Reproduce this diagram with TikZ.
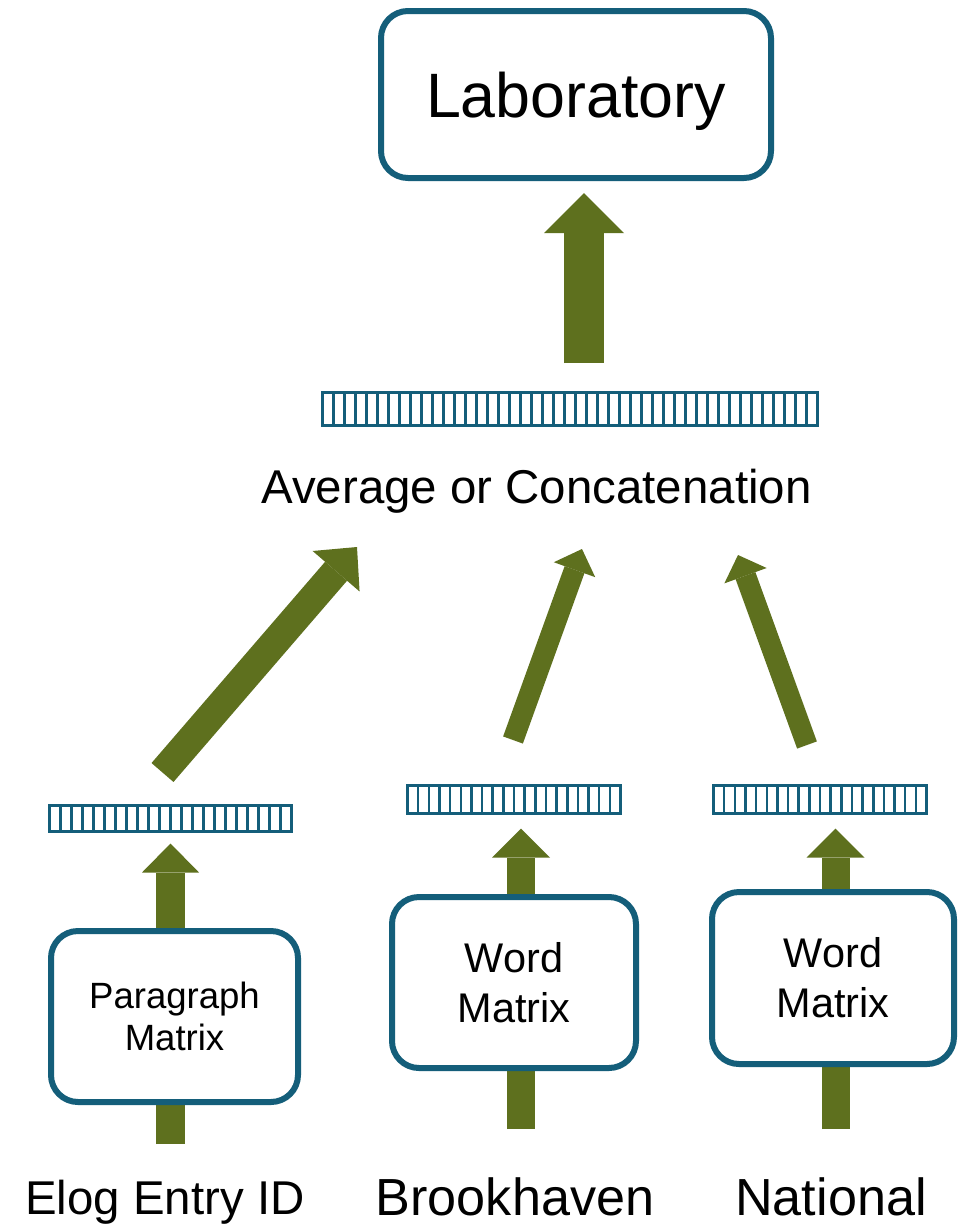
\documentclass[tikz,border=0pt]{standalone}
\usepackage{fontspec}
\setmainfont{Liberation Sans}
\usetikzlibrary{arrows.meta,backgrounds,calc}

\definecolor{boxblue}{RGB}{20,94,122}
\definecolor{arrowgreen}{RGB}{94,112,30}
\newcommand{\pxu}{0.02cm}

\tikzset{
  block/.style={draw=boxblue, line width=6*\pxu, rounded corners=27*\pxu,
    fill=white, align=center, inner sep=0pt},
  vecbar/.style={draw=boxblue, line width=3*\pxu, fill=white, inner sep=0pt,
    path picture={
      \pgfmathtruncatemacro{\lastcell}{#1-1}
      \foreach \k in {1,...,\lastcell}
        \draw[boxblue, line width=2.5*\pxu]
          ($(path picture bounding box.south west)!\k/#1!(path picture bounding box.south east)$) --
          ($(path picture bounding box.north west)!\k/#1!(path picture bounding box.north east)$);
    }},
  fatarrow/.style n args={3}{draw=arrowgreen, line width=#1*\pxu,
    -{Triangle[width=#2*\pxu, length=#3*\pxu, line width=0pt]}},
  wordfont/.style={font=\fontsize{23.6}{28.3}\selectfont},
  inputfont/.style={font=\fontsize{27}{32}\selectfont, inner sep=0pt},
  namefont/.style={font=\fontsize{29.7}{34}\selectfont, inner sep=0pt},
}

\begin{document}
\begin{tikzpicture}[x=\pxu, y=-\pxu]
    \useasboundingbox (0,0) rectangle (958,1225);

    \node[block, minimum width=390*\pxu, minimum height=167*\pxu, text depth=0pt,
      font=\fontsize{35.7}{40}\selectfont] (lab) at (576,94.5) {Laboratory};
    \node[vecbar=45, minimum width=495*\pxu, minimum height=33*\pxu] (barT) at (570,409) {};
    \node[inputfont, anchor=base] (avg) at (536.5,503) {Average or Concatenation};

    \node[vecbar=22, minimum width=242*\pxu, minimum height=26*\pxu] (barE) at (170.5,818.5) {};
    \node[vecbar=20, minimum width=213*\pxu, minimum height=28*\pxu] (barB) at (514,799.5) {};
    \node[vecbar=20, minimum width=213*\pxu, minimum height=28*\pxu] (barN) at (820,799.5) {};

    \node[block, minimum width=247*\pxu, minimum height=171*\pxu,
      font=\fontsize{20.8}{23.8}\selectfont] (boxE) at (174.5,1016.5) {Paragraph\\Matrix};
    \node[block, wordfont, minimum width=244*\pxu, minimum height=171*\pxu] (boxB) at (514,982.5) {Word\\Matrix};
    \node[block, wordfont, minimum width=242*\pxu, minimum height=172*\pxu] (boxN) at (833,978) {Word\\Matrix};

    \node[inputfont, anchor=base] (inE) at (165,1214) {Elog Entry ID};
    \node[namefont, anchor=base] (inB) at (515,1215) {Brookhaven};
    \node[namefont, anchor=base] (inN) at (831,1215) {National};

    \coordinate (srcT) at (584,363);
    \coordinate (srcE) at (170.5,1144);
    \coordinate (srcB) at (521,1129);
    \coordinate (srcN) at (835.5,1129);
    \coordinate (tailE) at (162.5,772.5);
    \coordinate (tipE) at (357,547);
    \coordinate (tailB) at (513,740);
    \coordinate (tipB) at (582,549);
    \coordinate (tailN) at (807,745);
    \coordinate (tipN) at (738,555);

    \begin{scope}[on background layer]
      \fill[white] (0,0) rectangle (958,1225);
      \draw[fatarrow={40}{80}{40}, shorten >=12*\pxu] (srcT) -- (srcT |- lab.south);
      \draw[fatarrow={29}{57}{29}, shorten >=10.5*\pxu] (srcE) -- (srcE |- barE.south);
      \draw[fatarrow={28}{58}{29}, shorten >=13.5*\pxu] (srcB) -- (srcB |- barB.south);
      \draw[fatarrow={28}{58}{29}, shorten >=13.5*\pxu] (srcN) -- (srcN |- barN.south);
      \draw[fatarrow={29}{62}{32}] (tailE) -- (tipE);
      \draw[fatarrow={21}{44}{22}] (tailB) -- (tipB);
      \draw[fatarrow={21}{45}{22}] (tailN) -- (tipN);
    \end{scope}
\end{tikzpicture}
\end{document}
